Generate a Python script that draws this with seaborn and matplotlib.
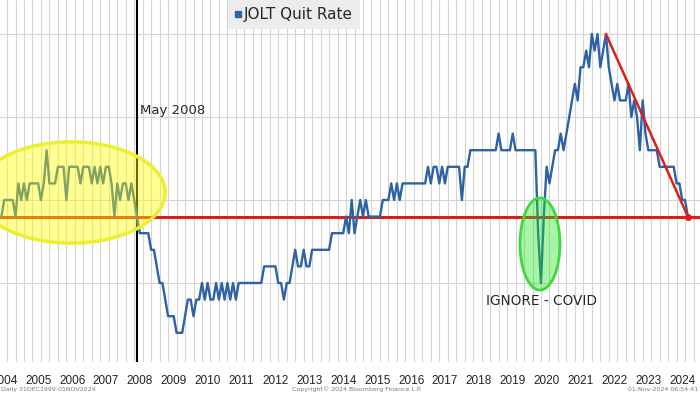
import seaborn as sns
import matplotlib.pyplot as plt
from matplotlib.patches import Ellipse
from matplotlib.lines import Line2D
import pandas as pd
import numpy as np

# JOLT quit rate, monthly from Jan 2004 to Aug 2024
quit_rate = [
    1.9, 1.9, 1.9, 1.9, 1.9, 2.0, 2.0, 2.0, 2.0, 1.9, 2.1, 2.0,  # 2004
    2.1, 2.0, 2.1, 2.1, 2.1, 2.1, 2.0, 2.1, 2.3, 2.1, 2.1, 2.1,  # 2005
    2.2, 2.2, 2.2, 2.0, 2.2, 2.2, 2.2, 2.2, 2.1, 2.2, 2.2, 2.2,  # 2006
    2.1, 2.2, 2.1, 2.2, 2.1, 2.2, 2.2, 2.1, 1.9, 2.1, 2.0, 2.1,  # 2007
    2.1, 2.0, 2.1, 2.0, 1.9, 1.8, 1.8, 1.8, 1.8, 1.7, 1.7, 1.6,  # 2008
    1.5, 1.5, 1.4, 1.3, 1.3, 1.3, 1.2, 1.2, 1.2, 1.3, 1.4, 1.4,  # 2009
    1.3, 1.4, 1.4, 1.5, 1.4, 1.5, 1.4, 1.4, 1.5, 1.4, 1.5, 1.4,  # 2010
    1.5, 1.4, 1.5, 1.4, 1.5, 1.5, 1.5, 1.5, 1.5, 1.5, 1.5, 1.5,  # 2011
    1.5, 1.6, 1.6, 1.6, 1.6, 1.6, 1.5, 1.5, 1.4, 1.5, 1.5, 1.6,  # 2012
    1.7, 1.6, 1.6, 1.7, 1.6, 1.6, 1.7, 1.7, 1.7, 1.7, 1.7, 1.7,  # 2013
    1.7, 1.8, 1.8, 1.8, 1.8, 1.8, 1.9, 1.8, 2.0, 1.8, 1.9, 2.0,  # 2014
    1.9, 2.0, 1.9, 1.9, 1.9, 1.9, 1.9, 2.0, 2.0, 2.0, 2.1, 2.0,  # 2015
    2.1, 2.0, 2.1, 2.1, 2.1, 2.1, 2.1, 2.1, 2.1, 2.1, 2.1, 2.2,  # 2016
    2.1, 2.2, 2.2, 2.1, 2.2, 2.1, 2.2, 2.2, 2.2, 2.2, 2.2, 2.0,  # 2017
    2.2, 2.2, 2.3, 2.3, 2.3, 2.3, 2.3, 2.3, 2.3, 2.3, 2.3, 2.3,  # 2018
    2.4, 2.3, 2.3, 2.3, 2.3, 2.4, 2.3, 2.3, 2.3, 2.3, 2.3, 2.3,  # 2019
    2.3, 2.3, 1.8, 1.5, 1.9, 2.2, 2.1, 2.2, 2.3, 2.3, 2.4, 2.3,  # 2020
    2.4, 2.5, 2.6, 2.7, 2.6, 2.8, 2.8, 2.9, 2.8, 3.0, 2.9, 3.0,  # 2021
    2.8, 2.9, 3.0, 2.8, 2.7, 2.6, 2.7, 2.6, 2.6, 2.6, 2.7, 2.5,  # 2022
    2.6, 2.5, 2.3, 2.6, 2.4, 2.3, 2.3, 2.3, 2.3, 2.2, 2.2, 2.2,  # 2023
    2.2, 2.2, 2.2, 2.1, 2.1, 2.0, 2.0, 1.9,                      # 2024
]
start_year = 2004
year_labels = [str(y) for y in range(2004, 2025)]

current_level = 1.9          # red horizontal line
may_2008 = 2008 + 4 / 12     # vertical marker
trend_start = 2022 + 2 / 12  # Mar 2022 peak

dates = start_year + np.arange(len(quit_rate)) / 12
df = pd.DataFrame({"date": dates, "rate": quit_rate})

sns.set_style("white")
plt.rcParams["font.family"] = ["DejaVu Sans"]

fig = plt.figure(figsize=(7, 3.94), dpi=100)
ax = fig.add_axes([0, 32 / 394, 1, 362 / 394])

blue = "#2d62a6"
red = "#dd1f1a"

sns.lineplot(data=df, x="date", y="rate", color=blue, lw=1.7, ax=ax, zorder=3)

ax.axhline(current_level, color=red, lw=2.2, zorder=2)
ax.axvline(may_2008, color="black", lw=1.5, zorder=2)

# trend line from the peak to the latest print
last_date = df["date"].iloc[-1]
last_val = df["rate"].iloc[-1]
peak_val = df.loc[np.isclose(df["date"], trend_start), "rate"].iloc[0]
ax.plot([trend_start, last_date], [peak_val, last_val], color=red, lw=1.8, zorder=5)
ax.plot([last_date], [last_val], "o", color=red, ms=4, zorder=6)

# highlight ellipses
ax.add_patch(Ellipse((2006.39, 2.045), 5.55, 0.61, facecolor=(1, 1, 0, 0.42),
                     edgecolor="#eeee30", lw=2.5, zorder=4))
ax.add_patch(Ellipse((2020.22, 1.735), 1.18, 0.555, facecolor=(0.1, 0.9, 0.1, 0.38),
                     edgecolor="#3fd83f", lw=2, zorder=4))

ax.text(may_2008 + 0.08, 2.54, "May 2008", fontsize=9.5, va="center", ha="left", zorder=7)
ax.text(2020.25, 1.39, "IGNORE - COVID", fontsize=9.8, va="center", ha="center", zorder=7)

ax.set_xticks([int(y) + 0.42 for y in year_labels])
ax.set_xticklabels(year_labels, family=["Liberation Sans", "DejaVu Sans"], fontsize=8.5)
ax.set_xticks(np.arange(2004, 2025.01, 0.25), minor=True)
ax.set_yticks([1.5, 2.0, 2.5, 3.0])
# limits after the ticks, so the tick lists do not widen the view
ax.set_xlim(2004.292, 2024.941)
ax.set_ylim(1.024, 3.205)

ax.tick_params(axis="both", which="both", length=0, labelleft=False, pad=9, colors="#222222")
ax.grid(False)
ax.grid(True, which="minor", axis="x", color="#d4d4d4", lw=0.8)
ax.grid(True, which="major", axis="y", color="#d4d4d4", lw=0.8)
ax.set_axisbelow(True)
ax.set_xlabel("")
ax.set_ylabel("")
for s in ax.spines.values():
    s.set_visible(False)

handle = Line2D([], [], marker="s", ls="none", color=blue, ms=4)
leg = ax.legend([handle], ["JOLT Quit Rate"], loc="upper left", bbox_to_anchor=(228 / 700, 1.0),
                frameon=True, facecolor="#ececec", edgecolor="none", fancybox=False,
                fontsize=11, handlelength=0.4, handletextpad=0.2, borderaxespad=0, borderpad=0.45)
leg.get_frame().set_alpha(1)

fig.text(0.002, 0.008, "Daily 31DEC1999-01NOV2024", fontsize=4.5, color="#777777")
fig.text(0.51, 0.008, "Copyright\u00a9 2024 Bloomberg Finance L.P.", fontsize=4.5, color="#777777", ha="center")
fig.text(0.998, 0.008, "01-Nov-2024 06:54:41", fontsize=4.5, color="#777777", ha="right")

fig.savefig("out.png", dpi=100)
